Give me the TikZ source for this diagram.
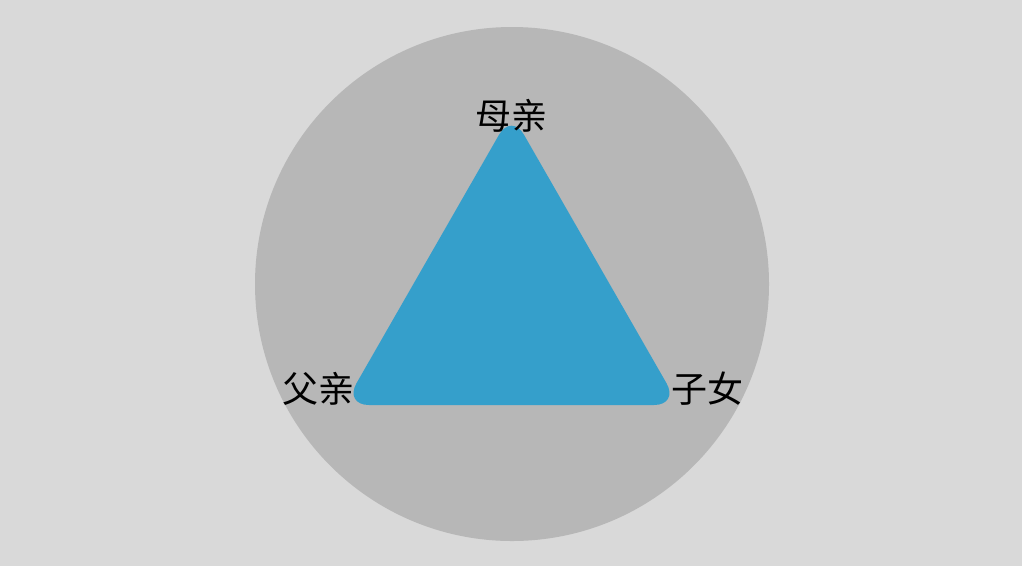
\documentclass[tikz,border=0pt]{standalone}
\usepackage{fontspec}
\newfontfamily\cjk{Noto Sans CJK SC}
\definecolor{bg}{HTML}{D9D9D9}
\definecolor{disc}{HTML}{B7B7B7}
\definecolor{tri}{HTML}{359FCB}
\begin{document}
\begin{tikzpicture}[x=1pt,y=-1pt,
  lbl/.style={font=\cjk\fontsize{36}{36}\selectfont, text=black, inner sep=0pt}]
\fill[bg] (0,0) rectangle (1022,566);
\useasboundingbox (0,0) rectangle (1022,566);
\fill[disc] (512,284) circle (257);
\coordinate (A) at (511.5,113);
\coordinate (B) at (344,405);
\coordinate (C) at (679,405);
\fill[tri, rounded corners=25pt] (A) -- (C) -- (B) -- cycle;
\node[lbl] (m) at (511,116) {母亲};
\node[lbl] (f) at (318,389) {父亲};
\node[lbl] (z) at (707,389) {子女};
\end{tikzpicture}
\end{document}
